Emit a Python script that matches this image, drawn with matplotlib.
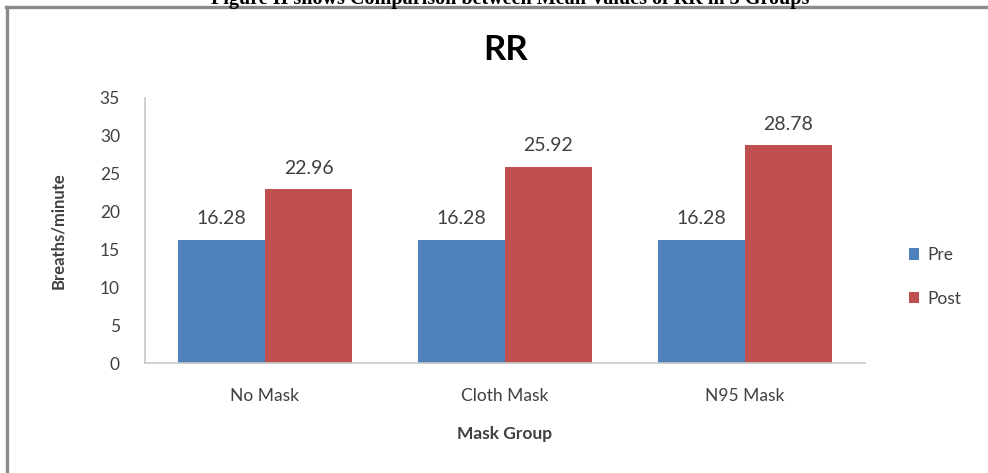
import matplotlib
matplotlib.use("Agg")
import matplotlib.pyplot as plt
from matplotlib.lines import Line2D
from matplotlib.patches import Patch
import numpy as np

groups = ["No Mask", "Cloth Mask", "N95 Mask"]
pre_values = [16.28, 16.28, 16.28]
post_values = [22.96, 25.92, 28.78]
series_names = ["Pre", "Post"]
yticks = [0, 5, 10, 15, 20, 25, 30, 35]

BLUE = "#4F81BD"
RED = "#C0504D"
TEXT = "#404040"
FONT = "Lato"

W, H = 988, 473
fig = plt.figure(figsize=(W / 100, H / 100), dpi=100)
fig.patch.set_facecolor("white")

# Frame around the chart (left and top edges)
fig.add_artist(Line2D([7 / W, 7 / W], [0, 1 - 7 / H], color="#8a8a8a", lw=2.4,
                      transform=fig.transFigure))
fig.add_artist(Line2D([6 / W, 1], [1 - 7 / H, 1 - 7 / H], color="#8a8a8a", lw=2.4,
                      transform=fig.transFigure))

# Caption above the frame
fig.text(510 / W, 1 - 4 / H,
         "Figure II shows Comparison between Mean Values of RR in 3 Groups",
         ha="center", va="baseline", fontsize=14.5, fontweight="bold",
         family="Liberation Serif", color="black")

ax = fig.add_axes([145 / W, 1 - 363 / H, 720 / W, 265 / H])
x = np.arange(len(groups))
bw = 0.3625
bars_pre = ax.bar(x - bw / 2, pre_values, bw, color=BLUE, label=series_names[0])
bars_post = ax.bar(x + bw / 2, post_values, bw, color=RED, label=series_names[1])

for bars, vals in ((bars_pre, pre_values), (bars_post, post_values)):
    for b, v in zip(bars, vals):
        ax.annotate(f"{v:.2f}", (b.get_x() + b.get_width() / 2, v),
                    xytext=(0, 9), textcoords="offset points",
                    ha="center", va="bottom", fontsize=14, color=TEXT, family=FONT)

ax.set_xlim(-0.5, 2.5)
ax.set_ylim(0, 35)
ax.set_yticks(yticks)
ax.set_yticklabels([str(t) for t in yticks], fontsize=12.5, color=TEXT, family=FONT)
ax.set_xticks(x)
ax.set_xticklabels(groups, fontsize=12.5, color=TEXT, family=FONT)
ax.tick_params(axis="both", length=0)
ax.tick_params(axis="y", pad=18)
ax.tick_params(axis="x", pad=18)

for s in ("top", "right"):
    ax.spines[s].set_visible(False)
for s in ("left", "bottom"):
    ax.spines[s].set_color("#c8c8c8")
    ax.spines[s].set_linewidth(1.2)

ax.set_xlabel("Mask Group", fontsize=12.5, fontweight="bold", color=TEXT,
              family=FONT, labelpad=16)
ax.set_ylabel("Breaths/minute", fontsize=12, fontweight="bold", color=TEXT,
              family=FONT, labelpad=24)

fig.text(506 / W, 1 - 50 / H, "RR", ha="center", va="center", fontsize=25,
         fontweight="bold", family=FONT, color="black")

handles = [Patch(facecolor=BLUE), Patch(facecolor=RED)]
fig.legend(handles, series_names, loc="center left",
           bbox_to_anchor=(893 / W, 1 - 277 / H), frameon=False,
           handlelength=0.6, handleheight=0.6,
           handletextpad=0.5, labelspacing=1.6, labelcolor=TEXT,
           prop={"family": FONT, "size": 12.5})

fig.savefig("out.png", dpi=100, facecolor="white")
